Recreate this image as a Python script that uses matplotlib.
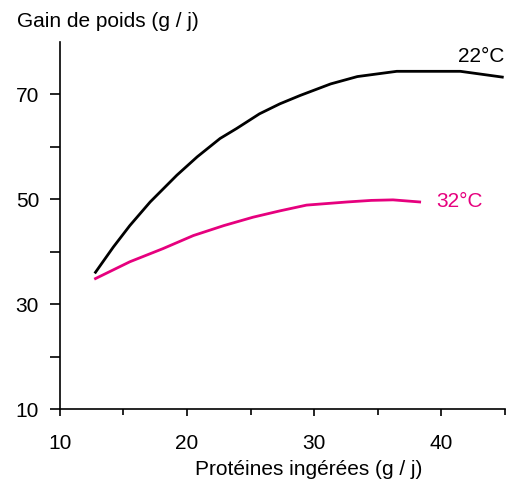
import matplotlib
matplotlib.use("Agg")
import matplotlib.pyplot as plt
from matplotlib.ticker import MultipleLocator

plt.rcParams['font.family'] = ['Liberation Sans', 'DejaVu Sans']

# Gain de poids en fonction des protéines ingérées
prot_22 = [12.8, 14.2, 15.5, 17.1, 19.2, 20.8, 22.6, 23.9, 25.7, 27.3, 28.9,
           31.3, 33.4, 36.5, 41.5, 44.8]
gain_22 = [36.1, 40.9, 45.0, 49.5, 54.6, 58.1, 61.6, 63.5, 66.3, 68.2, 69.8,
           72.0, 73.4, 74.4, 74.4, 73.3]

prot_32 = [12.8, 15.5, 18.1, 20.5, 22.9, 25.2, 27.3, 29.4, 32.6, 34.5, 36.2, 38.3]
gain_32 = [34.9, 38.1, 40.6, 43.1, 45.0, 46.6, 47.8, 48.9, 49.5, 49.8, 49.9, 49.5]

rose = "#E6007E"
fs = 15

fig = plt.figure(figsize=(5.12, 4.82), dpi=100)
ax = fig.add_axes([0.117, 0.151, 0.869, 0.762])

ax.plot(prot_22, gain_22, color="black", lw=2.0)
ax.plot(prot_32, gain_32, color=rose, lw=2.0)

ax.text(45.0, 76.2, "22°C", ha="right", va="baseline", fontsize=fs)
ax.text(39.6, 49.6, "32°C", ha="left", va="center", fontsize=fs, color=rose)

ax.set_xlim(10, 45)
ax.set_ylim(10, 80)
ax.xaxis.set_major_locator(MultipleLocator(10))
ax.xaxis.set_minor_locator(MultipleLocator(5))
ax.set_yticks([10, 30, 50, 70])
ax.set_yticks([20, 40, 60], minor=True)

for s in ["top", "right"]:
    ax.spines[s].set_visible(False)
ax.spines["left"].set_linewidth(1.2)
ax.spines["bottom"].set_linewidth(1.2)

ax.tick_params(axis="both", which="both", direction="out", width=1.2,
               labelsize=fs)
ax.tick_params(axis="y", which="both", length=7, pad=8)
ax.tick_params(axis="x", which="major", length=5, pad=13)
ax.tick_params(axis="x", which="minor", length=4)

fig.text(0.602, 0.025, "Protéines ingérées (g / j)", fontsize=fs,
         ha="center", va="center")
fig.text(0.033, 0.955, "Gain de poids (g / j)", fontsize=fs, va="center")

fig.savefig("out.png", dpi=100)
